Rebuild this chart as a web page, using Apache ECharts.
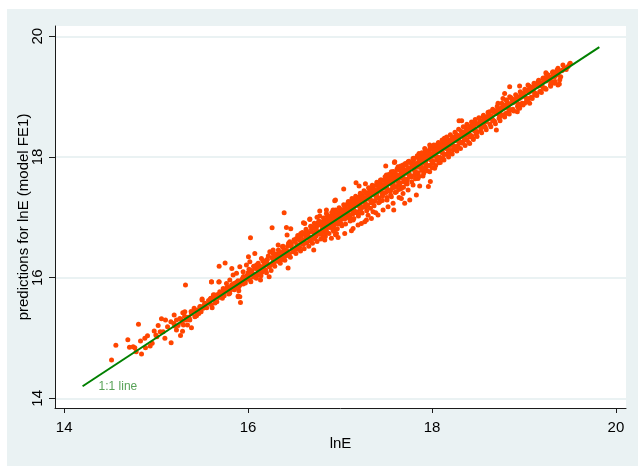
<!DOCTYPE html>
<html>
<head>
<meta charset="utf-8">
<script src="https://cdn.jsdelivr.net/npm/echarts@6/dist/echarts.min.js"></script>
<style>
html,body{margin:0;padding:0;background:#ffffff;}
#chart{width:638px;height:466px;}
</style>
</head>
<body>
<div id="chart"></div>
<script>
// Tick labels
var xTicks = [14, 16, 18, 20];
var yTicks = [14, 16, 18, 20];
// 1:1 reference line extent
var lineEnds = [14.2, 19.82];
var lineLabel = '1:1 line';
// Scatter: [lnE, predictions for lnE (model FE1)]
var lowPoints = [
[14.515,14.635],[14.562,14.878],[14.692,14.972],[14.710,14.845],[14.768,14.839],[14.783,14.773],
[14.830,14.950],[14.808,15.226],[14.884,14.839],[14.841,14.734],[14.906,15.038],[14.935,14.867],
[14.957,14.911],[14.979,15.115],[15.008,15.021],[15.022,15.209],[15.044,15.104],[15.058,15.320],
[15.095,14.994],[15.102,15.298],[15.124,15.187],[15.163,14.922],[15.196,15.380],[15.192,15.242],
[15.221,15.132],[15.239,15.209],[15.265,15.043],[15.287,15.110],[15.297,15.215],[15.312,15.436],
[15.323,15.298],[15.348,15.342],[15.319,15.877],[15.384,15.171],[15.413,15.491],[15.439,15.369],
[15.464,15.408],[15.489,15.436],[15.500,15.629],[15.529,15.574],[15.537,15.507],[15.595,15.657],
[15.602,15.927],[15.609,15.502],[15.623,15.717],[15.682,15.927],[15.732,15.761],[15.754,15.811],
[15.776,15.850],[15.801,15.811],[15.856,15.905],[15.892,15.695],[15.917,15.590],[15.899,15.783],
[15.928,15.960],[15.946,15.894],[15.160,15.270],[15.221,15.298],[15.258,15.325],[15.283,15.253],
[15.341,15.215],[15.366,15.298],[15.384,15.408],[15.421,15.353],[15.450,15.463],[15.475,15.518],
[15.511,15.491],[15.290,15.419],[15.203,15.198],[15.076,15.104],[14.997,15.049],[14.877,14.994],
[14.750,14.856],
[15.42,15.46],[15.45,15.40],[15.48,15.52],[15.55,15.50],[15.57,15.62],[15.60,15.55],[15.62,15.68],
[15.66,15.60],[15.70,15.74],[15.72,15.66],[15.75,15.80],[15.80,15.74],[15.82,15.88],[15.85,15.80],
[15.87,15.92],[15.90,15.85],[15.36,15.33],[15.38,15.44],[15.31,15.36],[15.27,15.31],
[15.61,15.66],[15.64,15.58],[15.67,15.72],[15.71,15.69],[15.74,15.70],[15.77,15.83],[15.79,15.73],
[15.81,15.80],[15.84,15.90],[15.86,15.83],[15.89,15.95],[15.91,15.88],[15.94,15.99],[15.96,15.93],
[15.99,16.04]
];
var midPoints = [
[16.392,17.076],[16.942,17.275],[16.026,16.662],[16.261,16.827],[16.417,16.833],[16.464,16.811],
[16.424,16.706],[15.685,16.187],[15.750,16.242],[15.823,16.153],[15.602,15.933],[15.685,15.933],
[15.500,15.645],[15.591,15.651],[15.892,15.684],[16.004,16.347],[16.073,16.402],[16.145,16.319],
[16.200,16.292],[16.236,16.430],[16.272,16.457],[16.327,16.540],[16.374,16.512],[16.417,16.402],
[16.453,16.595],[16.490,16.457],[16.526,16.650],[16.573,16.733],[16.616,16.899],[16.671,16.965],
[16.714,16.457],[16.743,16.844],[16.779,17.020],[16.797,16.733],[16.834,16.623],[16.852,17.065],
[16.888,16.899],[16.924,16.788],[16.961,16.733],[16.979,17.065],[16.924,17.120],[16.229,16.015],
[16.135,15.960],[16.055,16.043],[15.946,16.098],[15.910,16.181],[15.982,16.209],[16.019,16.264],
[16.091,16.209],[16.109,16.126],[16.164,16.181],[16.218,16.209],[16.272,16.264],[16.308,16.347],
[16.345,16.374],[16.392,16.358],[16.435,16.159],[16.544,16.512],[16.598,16.623],[16.634,16.706],
[16.689,16.761],[16.725,16.650],[16.761,16.910],[16.808,16.816],[16.870,16.982],[16.906,16.954],
[16.961,16.927],[16.990,17.010],[15.801,15.960],[15.837,16.043],[15.874,16.071],[15.765,15.905],
[15.729,15.822],[15.692,15.767],[15.638,15.711],[15.819,15.839],[15.892,15.933],[15.910,15.684],
[15.95,16.02],[15.97,15.91],[16.00,16.08],[16.02,15.97],[16.04,16.12],[16.06,16.01],[16.08,16.15],
[16.10,16.04],[16.13,16.19],[16.15,16.09],[16.17,16.26],[16.19,16.13],[16.21,16.30],[16.23,16.18],
[16.26,16.33],[16.28,16.24],[16.30,16.39],[16.32,16.27],[16.34,16.42],[16.37,16.30],[16.39,16.47],
[16.41,16.36],[16.43,16.52],[16.45,16.40],[16.47,16.56],[16.49,16.43],[16.51,16.60],[16.53,16.47],
[16.55,16.64],[16.56,16.50],[16.58,16.69],[16.60,16.55],[16.62,16.72],[16.64,16.58],[16.65,16.75],
[16.67,16.61],[16.69,16.80],[16.71,16.66],[16.73,16.83],[16.74,16.69],[16.76,16.87],[16.78,16.72],
[16.80,16.88],[16.81,16.77],[16.83,16.95],[16.85,16.79],[16.87,16.97],[16.89,16.83],[16.90,17.02],
[16.92,16.87],[16.94,17.05],[16.96,16.90],[16.98,17.08],[16.99,16.93],
[16.01,16.14],[16.03,15.93],[16.06,16.19],[16.09,15.99],[16.11,16.24],[16.14,16.03],[16.16,16.28],
[16.20,16.08],[16.22,16.36],[16.25,16.12],[16.27,16.40],[16.29,16.19],[16.33,16.46],[16.35,16.24],
[16.38,16.52],[16.40,16.29],[16.44,16.57],[16.46,16.34],[16.50,16.63],[16.52,16.40],
[16.54,16.70],[16.57,16.44],[16.59,16.75],[16.61,16.48],[16.63,16.80],[16.66,16.52],[16.68,16.85],
[16.70,16.57],[16.72,16.90],[16.75,16.60],[16.77,16.94],[16.79,16.64],[16.82,16.99],[16.84,16.68],
[16.86,17.03],[16.88,16.73],[16.91,17.08],[16.93,16.77],[16.95,17.12],[16.97,16.81],[16.99,17.16]
];
var upperPoints = [
[17.040,17.468],[16.950,17.286],[17.207,17.518],[17.276,17.556],[17.497,17.849],[17.595,17.921],
[17.584,17.120],[17.982,17.595],[17.961,17.512],[18.039,18.181],[16.602,16.910],[16.671,16.971],
[16.750,16.999],[16.852,17.120],[16.779,17.104],[16.950,16.711],[17.142,16.816],[17.232,16.899],
[17.287,16.954],[17.359,17.093],[17.388,17.076],[17.432,17.258],[17.468,17.396],[17.511,17.286],
[17.558,17.341],[17.613,17.424],[17.667,17.479],[17.721,17.562],[17.776,17.672],[17.830,17.739],
[17.884,17.838],[17.939,17.949],[17.993,18.031],[18.048,18.114],[18.102,18.170],[18.156,18.225],
[18.120,17.976],[18.076,17.904],[18.029,17.811],[17.975,17.755],[17.902,17.683],[17.848,17.645],
[17.794,17.534],[17.740,17.452],[17.685,17.396],[17.642,17.330],[17.577,17.231],[17.522,17.175],
[17.468,17.120],[17.413,17.037],[17.341,16.982],[17.269,16.927],[17.196,16.872],[17.124,16.778],
[17.051,16.733],[16.979,16.667],[16.906,16.651],[16.816,16.678],[16.743,16.761],[16.707,16.833],
[16.634,16.778],[16.816,16.899],[16.888,16.954],[16.961,17.037],[17.033,17.120],[17.105,17.203],
[17.160,17.286],[17.214,17.341],[17.287,17.396],[17.341,17.452],[17.395,17.534],[17.450,17.617],
[17.504,17.700],[17.558,17.755],[17.631,17.838],[17.685,17.866],[17.740,17.921],[17.794,17.976],
[17.859,18.059],[17.921,18.142],[17.975,18.197],[17.077,17.021],[17.305,17.032],[17.196,17.054],
[17.142,16.954],[17.667,17.313],[17.703,17.231],[17.830,17.369],[17.866,17.518],[17.758,17.286],
[17.591,17.910],[17.174,17.573],
[17.01,17.13],[17.02,16.97],[17.03,17.07],[17.05,17.18],[17.06,16.99],[17.07,17.10],[17.08,17.22],
[17.10,17.04],[17.11,17.15],[17.12,17.26],[17.14,17.06],[17.15,17.18],[17.16,17.30],[17.18,17.09],
[17.19,17.23],[17.20,17.33],[17.22,17.13],[17.23,17.27],[17.24,17.37],[17.26,17.17],[17.27,17.31],
[17.28,17.41],[17.30,17.21],[17.31,17.35],[17.32,17.46],[17.34,17.24],[17.35,17.39],[17.36,17.50],
[17.38,17.28],[17.39,17.44],[17.40,17.53],[17.42,17.32],[17.43,17.47],[17.44,17.57],[17.46,17.37],
[17.47,17.52],[17.48,17.61],[17.50,17.41],
[17.51,17.56],[17.52,17.66],[17.53,17.45],[17.55,17.60],[17.56,17.70],[17.57,17.48],[17.59,17.64],
[17.60,17.74],[17.61,17.51],[17.63,17.68],[17.64,17.79],[17.65,17.55],[17.67,17.72],[17.68,17.83],
[17.69,17.59],[17.71,17.76],[17.72,17.87],[17.73,17.63],[17.75,17.80],[17.76,17.91],[17.77,17.67],
[17.79,17.84],[17.80,17.95],[17.81,17.70],[17.83,17.88],[17.84,17.99],[17.85,17.74],[17.87,17.92],
[17.88,18.03],[17.89,17.78],[17.91,17.96],[17.92,18.06],[17.93,17.82],[17.95,18.00],[17.96,18.10],
[17.97,17.86],[17.99,18.04],[18.00,18.13],
[17.02,16.86],[17.04,17.21],[17.06,16.89],[17.09,17.26],[17.11,16.94],[17.13,17.31],[17.15,16.98],
[17.17,17.35],[17.20,17.02],[17.22,17.40],[17.24,17.07],[17.26,17.44],[17.29,17.11],[17.31,17.49],
[17.33,17.15],[17.35,17.53],[17.37,17.19],[17.40,17.58],[17.42,17.24],[17.44,17.62],[17.46,17.28],
[17.49,17.67],
[17.51,17.33],[17.53,17.71],[17.55,17.37],[17.58,17.76],[17.60,17.41],[17.62,17.80],[17.64,17.46],
[17.66,17.85],[17.69,17.50],[17.71,17.89],[17.73,17.55],[17.75,17.93],[17.78,17.59],[17.80,17.98],
[17.82,17.64],[17.84,18.02],[17.86,17.68],[17.89,18.07],[17.91,17.73],[17.93,18.11],[17.95,17.77],
[17.98,18.15]
];
var topPoints = [
[18.294,18.600],[18.323,18.600],[18.700,18.446],[18.928,18.749],[19.497,19.539],[19.243,19.374],
[19.370,19.191],[19.279,19.274],[18.953,19.175],[19.044,19.191],[18.790,19.053],[18.808,18.943],
[18.718,18.888],[18.627,18.750],[18.555,18.667],[18.464,18.584],[18.373,18.473],[18.265,18.363],
[18.192,18.280],[18.120,18.225],[18.047,18.197],[18.011,18.142],[18.156,18.142],[18.247,18.170],
[18.337,18.252],[18.410,18.335],[18.446,18.446],[18.518,18.529],[18.591,18.584],[18.645,18.667],
[18.700,18.722],[18.754,18.805],[18.826,18.860],[18.881,18.943],[18.935,18.998],[18.990,19.053],
[19.044,19.108],[19.098,19.164],[19.153,19.246],[19.207,19.302],[19.261,19.357],[19.316,19.412],
[19.370,19.468],[19.424,19.523],[19.225,19.136],[19.171,19.081],[19.116,19.026],[19.062,18.971],
[19.008,18.888],[18.946,18.832],[18.863,18.777],[18.801,18.722],[18.736,18.667],[18.663,18.612],
[18.573,18.501],[18.482,18.418],[18.355,18.291],[18.446,18.308],[18.410,18.225],[19.316,19.246],
[19.334,19.329],[18.953,18.805],[19.062,18.888],[18.917,18.915],[18.845,18.998],[18.772,18.970],
[18.845,19.164],[19.385,19.208],[19.504,19.551],[19.239,19.395],[18.135,18.308],
[18.01,17.91],[18.03,18.08],[18.04,18.17],[18.05,17.95],[18.07,18.12],[18.08,18.21],[18.09,17.99],
[18.11,18.16],[18.12,18.24],[18.14,18.04],[18.15,18.19],[18.17,18.28],[18.18,18.08],[18.20,18.23],
[18.22,18.32],[18.23,18.12],[18.25,18.30],[18.27,18.37],[18.28,18.18],[18.30,18.34],[18.32,18.42],
[18.33,18.23],[18.35,18.39],[18.37,18.47],[18.38,18.28],[18.40,18.44],[18.42,18.51],[18.43,18.34],
[18.45,18.49],[18.47,18.56],[18.48,18.38],[18.50,18.54],
[18.52,18.60],[18.53,18.44],[18.55,18.58],[18.57,18.65],[18.58,18.49],[18.60,18.63],[18.62,18.70],
[18.63,18.54],[18.65,18.68],[18.67,18.75],[18.68,18.59],[18.70,18.73],[18.72,18.80],[18.73,18.64],
[18.75,18.78],[18.77,18.85],[18.78,18.69],[18.80,18.83],[18.82,18.90],[18.83,18.74],[18.85,18.88],
[18.87,18.95],[18.88,18.79],[18.90,18.93],[18.92,19.00],[18.93,18.84],[18.95,18.97],[18.97,19.05],
[18.98,18.89],[19.00,19.03],
[19.02,19.10],[19.03,18.94],[19.05,19.07],[19.07,19.15],[19.08,18.99],[19.10,19.13],[19.12,19.19],
[19.13,19.04],[19.15,19.18],[19.17,19.24],[19.18,19.09],[19.20,19.22],[19.22,19.29],[19.23,19.14],
[19.25,19.28],[19.27,19.33],[19.29,19.20],[19.30,19.32],[19.32,19.38],[19.34,19.25],[19.35,19.37],
[19.38,19.42],[19.40,19.33],[19.41,19.43],[19.44,19.48],[19.46,19.45],[19.48,19.50],
[18.00,17.82],[18.02,18.20],[18.04,17.86],[18.07,18.24],[18.09,17.91],[18.11,18.28],[18.13,17.95],
[18.16,18.33],[18.18,18.00],[18.20,18.37],[18.22,18.05],[18.25,18.41],[18.27,18.10],[18.29,18.46],
[18.31,18.14],[18.34,18.50],[18.36,18.19],[18.38,18.54],[18.40,18.24],[18.43,18.58],[18.45,18.29],
[18.47,18.62],[18.49,18.34],
[18.51,18.65],[18.54,18.40],[18.56,18.69],[18.59,18.45],[18.61,18.74],[18.64,18.50],[18.66,18.79],
[18.69,18.55],[18.71,18.84],[18.74,18.60],[18.76,18.89],[18.79,18.66],[18.81,18.94],[18.84,18.71],
[18.86,18.98],[18.89,18.76],[18.91,19.03],[18.94,18.81],[18.96,19.08],[18.99,18.86],
[19.01,19.12],[19.04,18.92],[19.06,19.17],[19.09,18.97],[19.11,19.22],[19.14,19.02],[19.16,19.27],
[19.19,19.07],[19.21,19.31],[19.24,19.12],[19.26,19.36],[19.29,19.17],[19.31,19.40],[19.33,19.22],
[19.36,19.44],[19.39,19.28]
];
var corePoints = [
[15.52,15.54],[15.58,15.57],[15.63,15.65],[15.68,15.67],[15.73,15.75],[15.78,15.77],[15.83,15.85],
[15.88,15.87],[15.93,15.95],[15.98,15.97],[16.05,16.07],[16.12,16.10],[16.18,16.21],[16.25,16.22],
[16.31,16.33],[16.36,16.34],[16.42,16.45],[16.48,16.47],[16.53,16.55],[16.58,16.57],[16.63,16.66],
[16.68,16.67],[16.72,16.74],[16.77,16.76],[16.82,16.84],[16.86,16.85],[16.91,16.93],[16.95,16.94],
[17.00,17.02],[17.04,17.03],[17.09,17.11],[17.13,17.12],[17.18,17.20],[17.22,17.21],[17.27,17.29],
[17.31,17.30],[17.36,17.38],[17.40,17.39],[17.45,17.47],[17.49,17.48],[17.54,17.56],[17.58,17.57],
[17.62,17.64],[17.66,17.65],[17.71,17.73],[17.75,17.74],[17.80,17.82],[17.84,17.83],[17.89,17.91],
[17.93,17.92],[17.98,18.00],[18.02,18.01],[18.07,18.09],[18.11,18.10],[18.16,18.18],[18.20,18.19],
[18.25,18.27],[18.29,18.28],[18.34,18.36],[18.38,18.37],[18.43,18.45],[18.47,18.46],[18.52,18.54],
[18.56,18.55],[18.61,18.63],[18.65,18.64],[18.70,18.72],[18.74,18.73],[18.79,18.81],[18.83,18.82],
[18.88,18.90],[18.92,18.91],[18.97,18.99],[19.01,19.00],[19.06,19.08],[19.10,19.09],[19.15,19.17],
[19.19,19.18],[19.24,19.26],[19.28,19.27],[19.33,19.35],[19.37,19.36],[19.42,19.44],
[16.80,16.92],[16.84,16.74],[16.88,17.00],[16.92,16.82],[16.97,17.08],[17.01,16.90],[17.06,17.16],
[17.10,16.99],[17.15,17.25],[17.19,17.08],[17.24,17.34],[17.28,17.17],[17.33,17.43],[17.37,17.26],
[17.42,17.53],[17.46,17.35],[17.51,17.62],[17.55,17.44],[17.60,17.71],[17.64,17.53],[17.69,17.80],
[17.73,17.62],[17.78,17.89],[17.82,17.71],[17.87,17.98],[17.91,17.80],[17.96,18.07],[18.00,17.89],
[18.05,18.16],[18.09,17.98],[18.14,18.24],[18.18,18.07],[18.23,18.33],[18.27,18.16],
[16.81,16.86],[16.84,16.80],[16.87,16.91],[16.91,16.88],[16.94,16.99],[16.97,16.95],[17.00,17.05],
[17.03,17.00],[17.06,17.11],[17.09,17.06],[17.12,17.17],[17.15,17.12],[17.18,17.24],[17.21,17.18],
[17.24,17.29],[17.27,17.24],[17.30,17.35],[17.33,17.30],[17.36,17.42],[17.39,17.35],[17.42,17.48],
[17.45,17.42],[17.48,17.54],[17.51,17.48],[17.54,17.60],[17.57,17.53],[17.60,17.66],[17.63,17.59],
[17.66,17.72],[17.69,17.65],[17.72,17.78],[17.75,17.70],[17.78,17.84],[17.81,17.77],[17.84,17.90],
[17.87,17.83],[17.90,17.96],[17.93,17.88],[17.96,18.02],[17.99,17.95],[18.02,18.07],[18.05,18.01],
[18.08,18.13],[18.11,18.07],[18.14,18.19],[18.17,18.13],[18.20,18.25],[18.23,18.19],[18.26,18.31],
[18.29,18.25],[18.32,18.37],[18.35,18.31],[18.38,18.43],[18.41,18.37],[18.44,18.49],[18.47,18.43],
[18.50,18.55],[18.53,18.49],[18.56,18.61],
[16.02,16.06],[16.07,16.04],[16.11,16.16],[16.16,16.13],[16.20,16.25],[16.24,16.20],[16.29,16.35],
[16.33,16.30],[16.38,16.43],[16.43,16.39],[16.47,16.53],[16.52,16.49],[16.56,16.62],[16.61,16.57],
[16.65,16.71],[16.70,16.65],[16.74,16.80],[16.79,16.74],
[16.83,16.90],[16.85,16.77],[16.89,16.95],[16.93,16.85],[16.96,17.03],[16.98,16.89],[17.02,17.09],
[17.05,16.97],[17.08,17.14],[17.11,17.02],[17.14,17.21],[17.17,17.08],[17.20,17.27],[17.23,17.14],
[17.26,17.33],[17.29,17.20],[17.32,17.39],[17.35,17.26],[17.38,17.45],[17.41,17.33],[17.44,17.51],
[17.47,17.39],[17.50,17.58],[17.53,17.44],[17.56,17.64],[17.59,17.50],[17.62,17.70],[17.65,17.57],
[17.68,17.76],[17.71,17.62],[17.74,17.82],[17.77,17.69],[17.80,17.88],[17.83,17.74],[17.86,17.94],
[17.89,17.80],[17.92,18.00],[17.95,17.86],[17.98,18.06],[18.01,17.93],[18.04,18.12],[18.07,17.99],
[18.10,18.18],[18.13,18.05],[18.16,18.24],[18.19,18.11],[18.22,18.29],[18.25,18.17],[18.28,18.35],
[18.31,18.23],[18.34,18.41],[18.37,18.29],[18.40,18.47],[18.43,18.35],[18.46,18.53],[18.49,18.41],
[18.53,18.59],[18.57,18.51],[18.61,18.68],[18.66,18.60],[18.70,18.77],[18.75,18.69],[18.80,18.86],
[18.84,18.78],[18.89,18.95],[18.94,18.88],[18.98,19.04],[19.03,18.97],[19.07,19.13],[19.12,19.06],
[19.16,19.22],[19.21,19.15],[19.25,19.31],[19.30,19.24],[19.34,19.40]
];
var scatterPoints = [].concat(lowPoints, midPoints, upperPoints, topPoints, corePoints);

var chart = echarts.init(document.getElementById('chart'), null, {renderer:'canvas'});
var fontFam = '"Liberation Sans", Arial, Helvetica, sans-serif';
var option = {
  animation: false,
  backgroundColor: '#ffffff',
  graphic: [{
    type: 'rect', z: -10, silent: true,
    shape: {x: 7, y: 9, width: 631, height: 457},
    style: {fill: '#EAF2F3'}
  }],
  grid: {
    left: 55, top: 26, right: 12, bottom: 58,
    show: true, backgroundColor: '#ffffff', borderWidth: 0
  },
  xAxis: {
    type: 'value', min: 13.9, max: 20.11,
    name: 'lnE', nameLocation: 'middle', nameGap: 28, nameMoveOverlap: false,
    nameTextStyle: {fontFamily: fontFam, fontSize: 15, color: '#000'},
    axisLine: {show: true, onZero: false, lineStyle: {color: '#1a1a1a', width: 1}},
    axisTick: {show: true, length: 5, customValues: xTicks, lineStyle: {color: '#1a1a1a'}},
    axisLabel: {customValues: xTicks, margin: 12, fontFamily: fontFam, fontSize: 15, color: '#000'},
    splitLine: {show: false}
  },
  yAxis: {
    type: 'value', min: 13.84, max: 20.17,
    name: 'predictions for lnE (model FE1)', nameLocation: 'middle', nameGap: 24, nameMoveOverlap: false,
    nameTextStyle: {fontFamily: fontFam, fontSize: 15, color: '#000'},
    axisLine: {show: true, onZero: false, lineStyle: {color: '#1a1a1a', width: 1}},
    axisTick: {show: true, length: 6, customValues: yTicks, lineStyle: {color: '#1a1a1a'}},
    axisLabel: {customValues: yTicks, margin: 10, rotate: 90, fontFamily: fontFam, fontSize: 15, color: '#000'},
    splitLine: {show: true, lineStyle: {color: '#EAF2F3', width: 2}}
  },
  series: [
    {
      type: 'scatter', data: scatterPoints, symbol: 'circle', symbolSize: 5,
      itemStyle: {color: '#FF4500', opacity: 1}, z: 2, silent: true, large: false
    },
    {
      type: 'line', data: [[lineEnds[0], lineEnds[0]], [lineEnds[1], lineEnds[1]]],
      showSymbol: false, symbol: 'none',
      lineStyle: {color: '#008000', width: 2}, z: 3, silent: true
    },
    {
      type: 'scatter', data: [[lineEnds[0], lineEnds[0]]], symbolSize: 0, z: 4, silent: true,
      label: {show: true, position: 'right', distance: 16, formatter: lineLabel,
        fontFamily: fontFam, fontSize: 12, color: '#2E8B2E'}
    }
  ]
};
chart.setOption(option);
</script>
</body>
</html>
